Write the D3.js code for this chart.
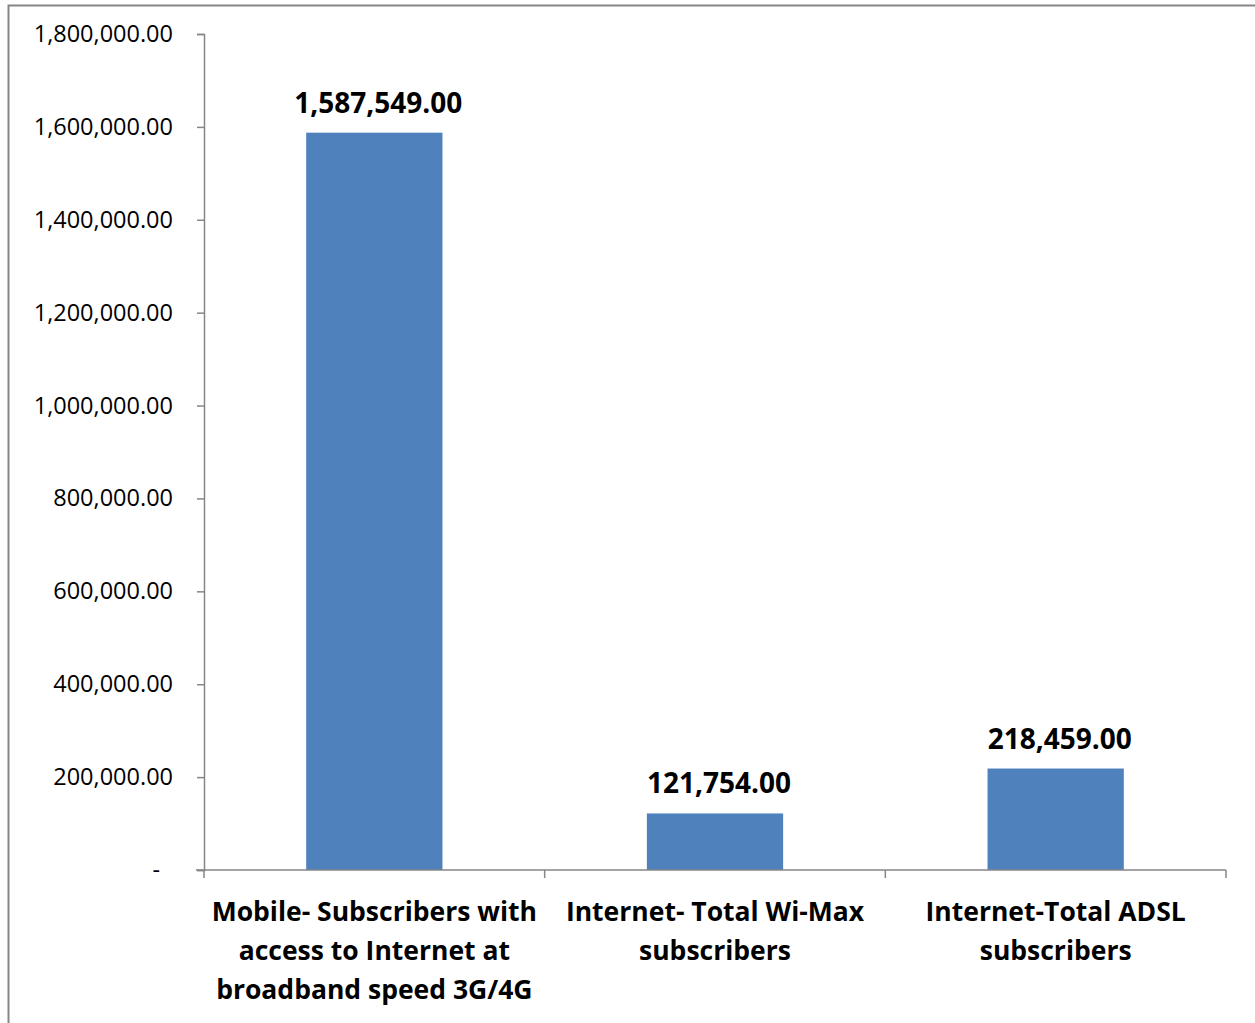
<!DOCTYPE html>
<html>
<head>
<meta charset="utf-8">
<script src="https://cdn.jsdelivr.net/npm/d3@7"></script>
<style>
  body { margin: 0; background: #fff; }
  text { font-family: "Open Sans", sans-serif; }
</style>
</head>
<body>
<script>
// chart data
var categories = [
  ["Mobile- Subscribers with", "access to Internet at", "broadband speed 3G/4G"],
  ["Internet- Total Wi-Max", "subscribers"],
  ["Internet-Total ADSL", "subscribers"]
];
var values = [1587549, 121754, 218459];
var yTicks = [0, 200000, 400000, 600000, 800000, 1000000, 1200000, 1400000, 1600000, 1800000];

var w = 1255;
var h = 1023;
var axisColor = "#868686";

var svg = d3.select("body")
  .append("svg")
  .attr("width", w)
  .attr("height", h);

// outer chart border
svg.append("rect")
  .attr("x", 8.5)
  .attr("y", 5.5)
  .attr("width", 1260)
  .attr("height", 1040)
  .attr("fill", "none")
  .attr("stroke", axisColor)
  .attr("stroke-width", 2);

var x = d3.scaleBand()
  .domain(d3.range(values.length))
  .range([204, 1226])
  .paddingInner(0.6)
  .paddingOuter(0.3);

var y = d3.scaleLinear()
  .domain([0, 1800000])
  .range([870, 34]);

var fmt = d3.format(",.2f");

// y axis
var yAxis = svg.append("g")
  .attr("transform", "translate(204,0)")
  .call(d3.axisLeft(y)
    .tickValues(yTicks)
    .tickSize(7)
    .tickPadding(24)
    .tickFormat(function(d) { return d === 0 ? "-" : fmt(d); }));

yAxis.select(".domain").attr("stroke", axisColor).attr("stroke-width", 1.5);
yAxis.selectAll(".tick line").attr("stroke", axisColor).attr("stroke-width", 1.5);
yAxis.selectAll(".tick text")
  .attr("fill", "#000")
  .style("font-size", "23.5px")
  .style("font-family", "'Open Sans', sans-serif");
// zero label sits further left
yAxis.selectAll(".tick text").filter(function(d) { return d === 0; })
  .attr("x", -44);

// bars
svg.selectAll("rect.bar")
  .data(values)
  .enter()
  .append("rect")
  .attr("class", "bar")
  .attr("x", function(d, i) { return x(i); })
  .attr("y", function(d) { return y(d); })
  .attr("width", x.bandwidth())
  .attr("height", function(d) { return y(0) - y(d); })
  .attr("fill", "#4F81BD");

// value labels
svg.selectAll("text.val")
  .data(values)
  .enter()
  .append("text")
  .attr("class", "val")
  .attr("x", function(d, i) { return x(i) + x.bandwidth() / 2 + 4; })
  .attr("y", function(d) { return y(d) - 20; })
  .attr("text-anchor", "middle")
  .style("font-size", "28px")
  .style("font-weight", "bold")
  .text(function(d) { return fmt(d); });

// x axis line and category boundary ticks
var step = x.step();
var x0 = 204;
svg.append("line")
  .attr("x1", x0 - 8).attr("x2", 1226)
  .attr("y1", y(0)).attr("y2", y(0))
  .attr("stroke", axisColor).attr("stroke-width", 1.5);

svg.selectAll("line.xtick")
  .data(d3.range(values.length + 1))
  .enter()
  .append("line")
  .attr("class", "xtick")
  .attr("x1", function(d) { return x0 + d * step; })
  .attr("x2", function(d) { return x0 + d * step; })
  .attr("y1", y(0))
  .attr("y2", y(0) + 8)
  .attr("stroke", axisColor).attr("stroke-width", 1.5);

// category labels
var cat = svg.selectAll("text.cat")
  .data(categories)
  .enter()
  .append("text")
  .attr("class", "cat")
  .attr("text-anchor", "middle")
  .style("font-size", "26.5px")
  .style("font-weight", "bold");

cat.selectAll("tspan")
  .data(function(d, i) { return d.map(function(s) { return { s: s, i: i }; }); })
  .enter()
  .append("tspan")
  .attr("x", function(d) { return x(d.i) + x.bandwidth() / 2; })
  .attr("y", function(d, j) { return 921 + j * 39; })
  .text(function(d) { return d.s; });
</script>
</body>
</html>
